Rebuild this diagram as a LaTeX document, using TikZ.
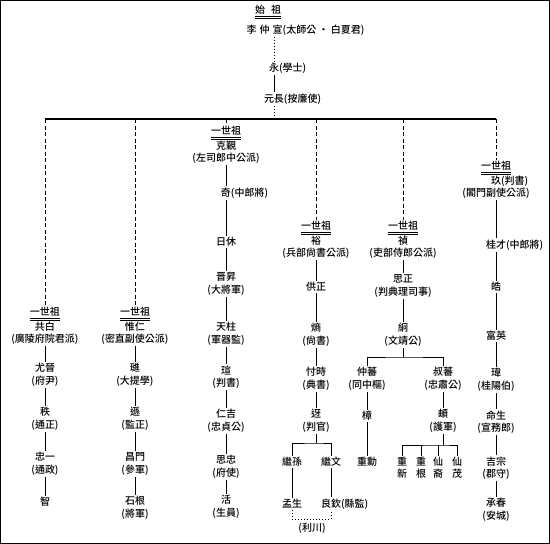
\documentclass[tikz,border=0pt]{standalone}
\usepackage{fontspec}
\setmainfont{Noto Sans CJK TC}[UprightFont=* Medium]
\usetikzlibrary{positioning}
\newcommand\gen{\underline{\underline{一世祖}}}
\newcommand\nt[2]{\phantom{#2}#1#2}
\tikzset{
  per/.style={inner sep=1.5pt, align=center, font=\fontsize{10}{12.5}\selectfont},
  kid/.style={per, font=\fontsize{10}{12}\selectfont},
  ln/.style={line width=0.9pt},
  dsh/.style={line width=1pt, dash pattern=on 4pt off 2.5pt},
  dot/.style={line width=1pt, dotted},
  bar/.style={line width=1.6pt},
}
\begin{document}
\begin{tikzpicture}[x=1pt,y=-1pt]
\useasboundingbox (0,0) rectangle (550,544);
\draw[line width=1pt] (0.5,0.5) rectangle (549.5,543.5);
% founder line
\node[per] (shizu) at (268,12) {\underline{\underline{始\hspace{0.6em}祖}}};
\node[per, anchor=west] (zhongxuan) at (245,30) {李\hspace{3pt}仲\hspace{3pt}宣(太師公 · 白夏君)};
\node[per] (yong) at (274,68) {\nt{永}{(學士)}};
\node[per] (yuanzhang) at (274,99) {\nt{元長}{(按廉使)}};
\coordinate (top) at (274,119);
\coordinate (c1) at (45,119);
\coordinate (c2) at (135,119);
\coordinate (c3) at (226,119);
\coordinate (c4) at (316,119);
\coordinate (c5) at (403,119);
\coordinate (c6) at (496,119);
\draw[dot] (zhongxuan.south -| yong) -- (yong);
\draw[ln] (yong) -- (yuanzhang);
\draw[dot] (yuanzhang) -- (top);
\draw[bar] (c1) -- (c6);

% first branch
\node[per] (gongbai) at (45,326) {\gen\\共白\\(廣陵府院君派)};
\node[per] (youjin) at (45,375) {尤晉\\(府尹)};
\node[per] (zhi) at (45,419) {秩\\(通正)};
\node[per] (zhongyi) at (45,464) {忠一\\(通政)};
\node[per] (zhi2) at (45,502) {智};
\draw[dsh] (c1) -- (gongbai);
\draw[ln] (gongbai) -- (youjin) -- (zhi) -- (zhongyi) -- (zhi2);

% second branch
\node[per] (weiren) at (135,326) {\gen\\惟仁\\(密直副使公派)};
\node[per] (jin) at (135,375) {璡\\(大提學)};
\node[per] (xun) at (135,419) {遜\\(監正)};
\node[per] (changmen) at (135,464) {昌門\\(參軍)};
\node[per] (shigen) at (135,508) {石根\\(將軍)};
\draw[dsh] (c2) -- (weiren);
\draw[ln] (weiren) -- (jin) -- (xun) -- (changmen) -- (shigen);

% third branch
\node[per] (kejin) at (226,145) {\gen\\克覲\\(左司郎中公派)};
\node[per] (qi) at (226,193) {\nt{奇}{(中郎將)}};
\node[per] (rixiu) at (226,242) {日休};
\node[per] (jinsheng) at (226,284) {晋昇\\(大將軍)};
\node[per] (tianzhu) at (226,334) {天柱\\(軍器監)};
\node[per] (xuan) at (226,377) {瑄\\(判書)};
\node[per] (renji) at (226,421) {仁吉\\(忠貞公)};
\node[per] (sizhong) at (226,467) {思忠\\(府使)};
\node[per] (huo) at (226,507) {活\\(生員)};
\draw[dsh] (c3) -- (kejin);
\draw[ln] (kejin) -- (qi) -- (rixiu) -- (jinsheng) -- (tianzhu) -- (xuan) -- (renji) -- (sizhong) -- (huo);

% fourth branch
\node[per] (yu) at (316,240) {\gen\\裕\\(兵部尙書公派)};
\node[per] (gongzheng) at (316,287) {供正};
\node[per] (shang) at (316,335) {熵\\(尙書)};
\node[per] (cunshi) at (316,379) {忖時\\(典書)};
\node[per] (ya) at (316,421) {迓\\(判官)};
\node[per] (jisun) at (292,462) {繼孫};
\node[per] (jiwen) at (331,462) {繼文};
\node[per] (mengsheng) at (292,504) {孟生};
\node[per] (liangqin) at (331,504) {\nt{良欽}{(縣監)}};
\node[per] (lichuan) at (312,528) {(利川)};
\coordinate (b4) at (316,443);
\coordinate (b4d) at (312,519);
\draw[dsh] (c4) -- (yu);
\draw[ln] (yu) -- (gongzheng) -- (shang) -- (cunshi) -- (ya) -- (b4);
\draw[ln] (jisun) |- (b4) -| (jiwen);
\draw[ln] (jisun) -- (mengsheng);
\draw[ln] (jiwen) -- (liangqin);
\draw[dot] (mengsheng) |- (b4d) -| (liangqin);

% fifth branch
\node[per] (zhen) at (403,240) {\gen\\禎\\(吏部侍郎公派)};
\node[per] (sizheng) at (403,286) {思正\\(判典理司事)};
\node[per] (jiong) at (403,335) {絅\\(文靖公)};
\node[per] (zhongfan) at (367,379) {仲蕃\\(同中樞)};
\node[per] (shufan) at (443,379) {叔蕃\\(忠肅公)};
\node[per] (zhang) at (367,416) {樟};
\node[per] (zhongxun) at (367,462) {重勳};
\node[per] (di) at (443,421) {頔\\(護軍)};
\node[kid] (zhongxin) at (402,468) {重\\新};
\node[kid] (zhonggen) at (421,468) {重\\根};
\node[kid] (xianyi) at (438,468) {仙\\裔};
\node[kid] (xianmao) at (457,468) {仙\\茂};
\coordinate (b5) at (403,357);
\coordinate (b6) at (443,445);
\draw[dsh] (c5) -- (zhen);
\draw[ln] (zhen) -- (sizheng) -- (jiong) -- (b5);
\draw[ln] (zhongfan) |- (b5) -| (shufan);
\draw[ln] (zhongfan) -- (zhang) -- (zhongxun);
\draw[ln] (shufan) -- (di) -- (b6);
\draw[ln] (zhongxin) |- (b6) -| (xianmao);
\draw[ln] (zhonggen) -- (zhonggen |- b6);
\draw[ln] (xianyi) -- (xianyi |- b6);

% sixth branch
\node[per] (jiu) at (496,180) {\gen\\\nt{玖}{(判書)}\\(閣門副使公派)};
\node[per] (guicai) at (496,245) {\nt{桂才}{(中郎將)}};
\node[per] (hao) at (496,287) {皓};
\node[per] (fuying) at (496,336) {富英};
\node[per] (wei) at (496,380) {瑋\\(桂陽伯)};
\node[per] (mingsheng) at (496,422) {命生\\(宣務郎)};
\node[per] (jizong) at (496,468) {吉宗\\(郡守)};
\node[per] (chengchun) at (496,510) {承春\\(安城)};
\draw[dsh] (c6) -- (jiu);
\draw[ln] (jiu) -- (guicai) -- (hao) -- (fuying) -- (wei) -- (mingsheng) -- (jizong) -- (chengchun);
\end{tikzpicture}
\end{document}
